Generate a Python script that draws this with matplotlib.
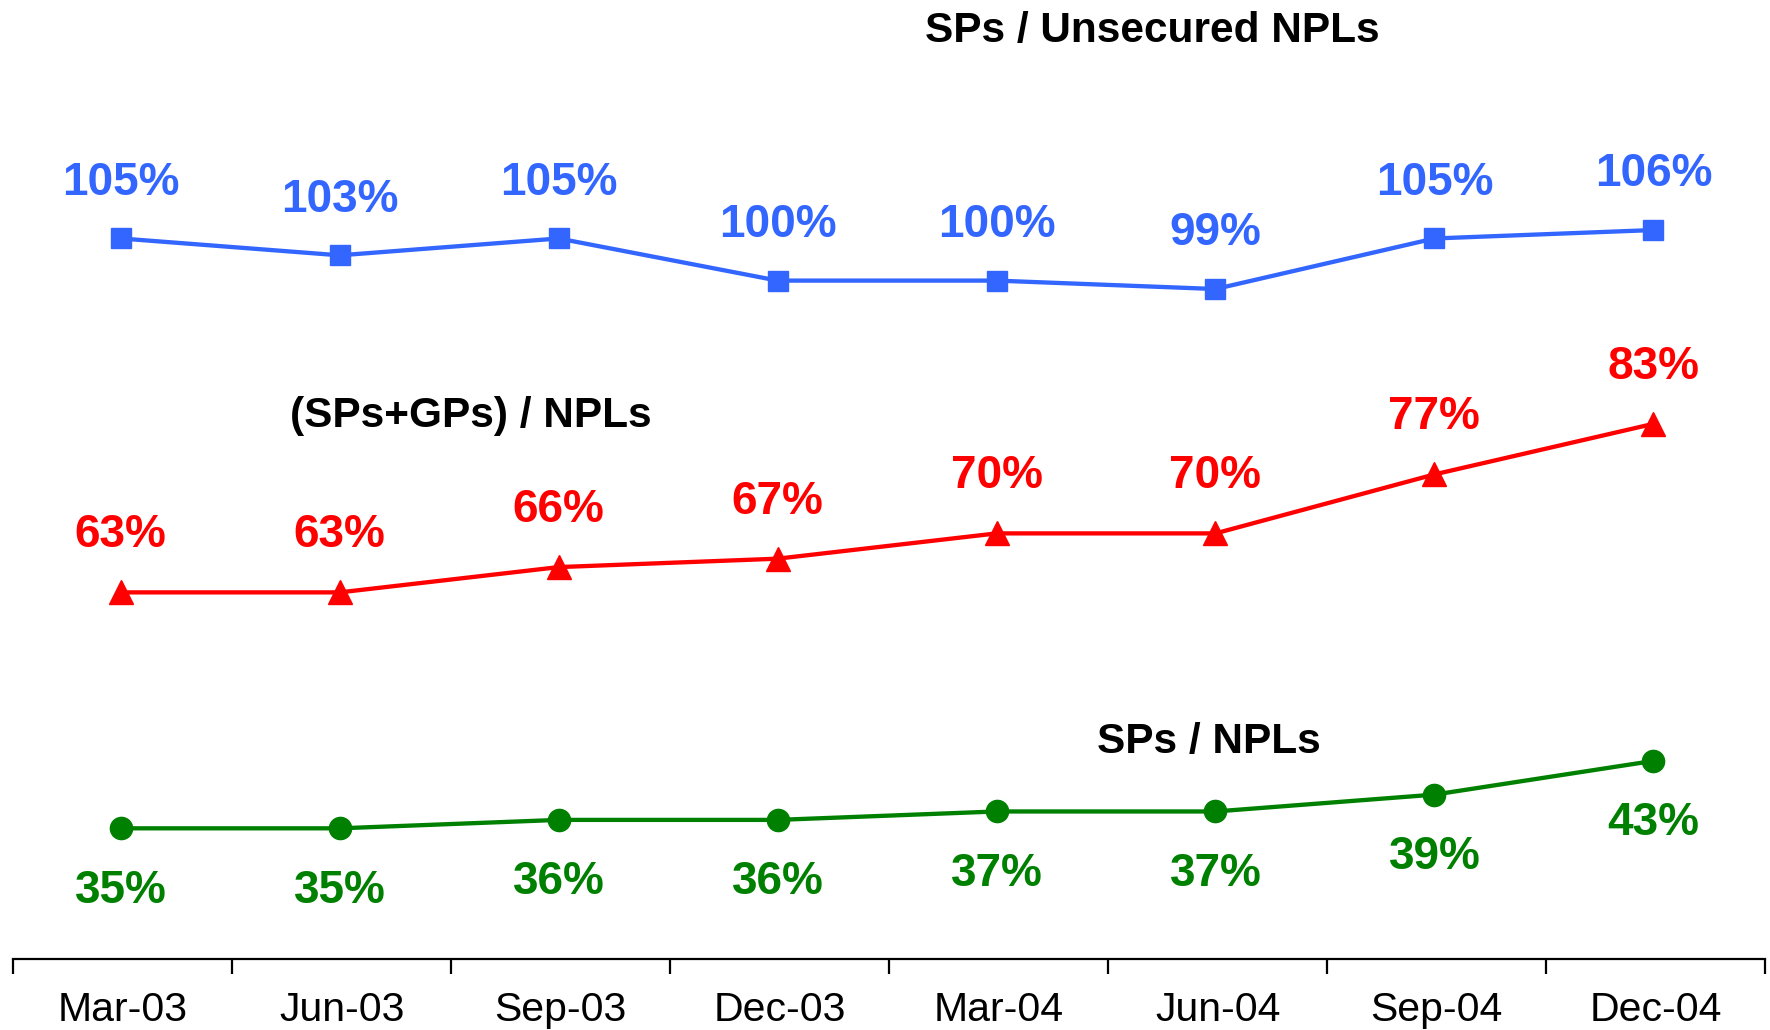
import matplotlib.pyplot as plt
import numpy as np

plt.rcParams['font.family'] = ['Liberation Sans', 'DejaVu Sans']

# Quarter labels and ratios (%)
quarters = ['Mar-03', 'Jun-03', 'Sep-03', 'Dec-03', 'Mar-04', 'Jun-04', 'Sep-04', 'Dec-04']
sp_unsecured = [105, 103, 105, 100, 100, 99, 105, 106]
sp_gp_npl = [63, 63, 66, 67, 70, 70, 77, 83]
sp_npl = [35, 35, 36, 36, 37, 37, 39, 43]

blue = '#3366FF'
red = '#FF0000'
green = '#008000'

fig = plt.figure(figsize=(17.7, 10.3), dpi=100)
ax = fig.add_axes([0.0076, 0.069, 0.9896, 0.931])

x = np.arange(len(quarters)) + 0.49

series = [
    (sp_unsecured, blue, 's', 15, 40),
    (sp_gp_npl, red, '^', 17, 41),
    (sp_npl, green, 'o', 16, -45),
]
for vals, col, mk, ms, off in series:
    ax.plot(x, vals, color=col, lw=3.1, marker=mk, markersize=ms, zorder=3)
    for xi, v in zip(x, vals):
        ax.annotate(f'{v}%', (xi, v), xytext=(0, off), textcoords='offset points',
                    ha='center', va='center', fontsize=33, fontweight='bold', color=col)

# Series names
ax.text(5.2, 129.6, 'SPs / Unsecured NPLs', ha='center', va='center',
        fontsize=30.5, fontweight='bold', color='black')
ax.text(2.09, 83.9, '(SPs+GPs) / NPLs', ha='center', va='center',
        fontsize=30.5, fontweight='bold', color='black')
ax.text(5.46, 45.3, 'SPs / NPLs', ha='center', va='center',
        fontsize=30.5, fontweight='bold', color='black')

ax.set_xlim(0, len(quarters))
ax.set_ylim(19.5, 133.3)

for s in ['top', 'right', 'left']:
    ax.spines[s].set_visible(False)
ax.spines['bottom'].set_linewidth(1.6)

ax.set_yticks([])
ax.set_xticks(np.arange(len(quarters) + 1))
ax.set_xticklabels([])
ax.tick_params(axis='x', which='major', direction='out', length=11, width=1.6)
ax.set_xticks(np.arange(len(quarters)) + 0.5, minor=True)
ax.set_xticklabels(quarters, minor=True, fontsize=29.5)
ax.tick_params(axis='x', which='minor', length=0, pad=23)

fig.savefig('out.png', dpi=100)
